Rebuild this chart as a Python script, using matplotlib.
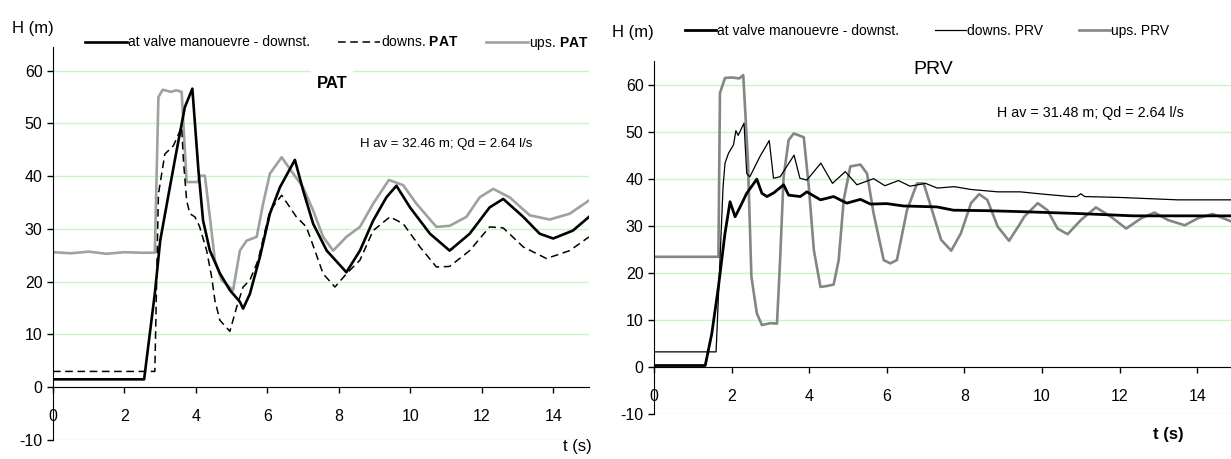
import matplotlib
matplotlib.use("Agg")
import matplotlib.pyplot as plt
from matplotlib import font_manager

names = {f.name for f in font_manager.fontManager.ttflist}
narrow = "Liberation Sans Narrow" if "Liberation Sans Narrow" in names else "Liberation Sans"
plt.rcParams["font.family"] = [narrow, "DejaVu Sans"]
plt.rcParams["axes.unicode_minus"] = False
plt.rcParams["mathtext.fontset"] = "custom"
plt.rcParams["mathtext.bf"] = narrow + ":bold"

# PAT - head at valve manoeuvre (downstream)
t_valve_pat = [0, 2.55, 2.85, 3.0, 3.27, 3.46, 3.69, 3.9, 4.07, 4.2, 4.39, 4.67, 4.95, 5.23, 5.32,
               5.51, 5.79, 6.07, 6.35, 6.77, 7.0, 7.28, 7.66, 8.21, 8.59, 8.96, 9.33, 9.61, 9.99,
               10.55, 11.1, 11.66, 12.22, 12.6, 13.16, 13.62, 14.0, 14.55, 15.0]
h_valve_pat = [1.5, 1.5, 17.8, 27.8, 37.9, 44.9, 53.1, 56.6, 41.1, 31.6, 25.9, 21.6, 18.4, 16.2, 14.9,
               17.7, 24.7, 32.9, 37.9, 43.1, 37.3, 31.0, 25.9, 21.8, 25.9, 31.6, 36.0, 38.2, 34.1,
               29.1, 25.9, 29.1, 34.1, 35.7, 32.3, 29.1, 28.2, 29.7, 32.3]

# PAT - downstream
t_down_pat = [0, 2.85, 2.9, 2.95, 3.13, 3.37, 3.6, 3.65, 3.74, 3.83, 3.97, 4.1, 4.3, 4.44, 4.53,
              4.67, 4.95, 5.14, 5.32, 5.51, 5.74, 6.07, 6.4, 6.81, 7.09, 7.33, 7.56, 7.89, 8.21,
              8.59, 8.96, 9.43, 9.8, 10.27, 10.73, 11.1, 11.66, 12.22, 12.6, 13.16, 13.81, 14.46, 15.0]
h_down_pat = [3.0, 3.0, 20.0, 36.6, 44.2, 45.8, 49.3, 43.0, 35.4, 32.9, 32.3, 30.5, 25.9, 20.9, 16.5,
              12.7, 10.6, 15.2, 19.0, 20.3, 24.1, 33.5, 36.4, 32.3, 30.4, 25.9, 21.5, 19.0, 21.5,
              24.1, 29.7, 32.3, 31.0, 26.6, 22.8, 22.9, 25.9, 30.4, 30.2, 26.6, 24.4, 25.9, 28.5]

# PAT - upstream
t_up_pat = [0, 0.5, 1.0, 1.5, 2.0, 2.5, 2.85, 2.95, 3.07, 3.3, 3.45, 3.6, 3.74, 4.05, 4.11, 4.25,
            4.39, 4.53, 4.72, 5.04, 5.23, 5.42, 5.7, 5.88, 6.07, 6.4, 6.72, 7.0, 7.28, 7.56, 7.84,
            8.21, 8.59, 8.96, 9.4, 9.8, 10.17, 10.73, 11.1, 11.57, 11.94, 12.32, 12.78, 13.34,
            13.9, 14.46, 15.0]
h_up_pat = [25.6, 25.4, 25.7, 25.3, 25.6, 25.5, 25.5, 55.0, 56.4, 56.0, 56.3, 56.0, 38.9, 38.9, 40.1, 40.1,
            32.3, 24.1, 20.3, 18.4, 25.9, 27.8, 28.5, 34.8, 40.5, 43.6, 40.5, 37.9, 33.5, 28.5, 25.9,
            28.5, 30.4, 34.8, 39.3, 38.3, 34.8, 30.4, 30.6, 32.3, 36.0, 37.6, 36.0, 32.6,
            31.8, 32.9, 35.4]

# PRV - head at valve manoeuvre (downstream)
t_valve_prv = [0, 1.32, 1.49, 1.66, 1.83, 1.96, 2.09, 2.22, 2.39, 2.65, 2.78, 2.91, 3.09, 3.34, 3.47,
               3.77, 3.94, 4.29, 4.63, 4.97, 5.32, 5.58, 6.0, 6.43, 6.86, 7.29, 7.72, 8.58, 9.44,
               10.9, 12.36, 15.0]
h_valve_prv = [0.3, 0.3, 7.1, 17.0, 28.4, 35.1, 31.9, 34.0, 36.9, 39.9, 36.9, 36.2, 37.0, 38.7, 36.5,
               36.2, 37.2, 35.5, 36.2, 34.8, 35.6, 34.6, 34.7, 34.2, 34.1, 34.0, 33.3, 33.2, 33.0,
               32.6, 32.1, 32.1]

# PRV - downstream
t_down_prv = [0, 1.6, 1.7, 1.78, 1.83, 1.92, 2.05, 2.11, 2.17, 2.32, 2.39, 2.47, 2.73, 2.97, 3.08,
              3.25, 3.61, 3.76, 3.94, 4.3, 4.6, 4.93, 5.23, 5.66, 5.95, 6.3, 6.6, 7.0, 7.3, 7.74,
              8.17, 8.86, 9.44, 10.04, 10.73, 10.9, 11.0, 11.1, 12.03, 13.5, 15.0]
h_down_prv = [3.2, 3.2, 22.7, 38.3, 43.3, 45.4, 47.2, 50.2, 49.2, 51.8, 41.1, 40.4, 44.7, 48.1, 40.1,
              40.4, 45.0, 40.1, 39.7, 43.3, 39.0, 41.5, 38.7, 40.0, 38.5, 39.6, 38.4, 39.0, 38.0, 38.3,
              37.7, 37.2, 37.2, 36.7, 36.2, 36.2, 36.8, 36.2, 36.0, 35.5, 35.5]

# PRV - upstream
t_up_prv = [0, 1.66, 1.7, 1.83, 2.0, 2.2, 2.3, 2.42, 2.51, 2.65, 2.78, 3.0, 3.17, 3.25, 3.34, 3.47,
            3.6, 3.86, 3.99, 4.12, 4.29, 4.46, 4.63, 4.76, 4.89, 5.06, 5.32, 5.49, 5.66, 5.92, 6.09,
            6.26, 6.52, 6.78, 6.95, 7.14, 7.4, 7.66, 7.91, 8.17, 8.38, 8.59, 8.86, 9.15, 9.44, 9.54,
            9.89, 10.14, 10.4, 10.66, 11.0, 11.39, 11.78, 12.17, 12.56, 12.9, 13.25, 13.68, 14.02,
            14.4, 15.0]
h_up_prv = [23.4, 23.4, 58.2, 61.4, 61.5, 61.3, 62.0, 44.0, 19.2, 11.4, 8.9, 9.3, 9.2, 22.7, 40.4, 48.2,
            49.6, 48.8, 38.3, 24.8, 17.0, 17.2, 17.5, 22.7, 35.5, 42.6, 43.0, 41.1, 32.6, 22.7, 22.0,
            22.7, 33.3, 39.0, 39.0, 34.0, 27.0, 24.7, 28.4, 34.8, 36.7, 35.5, 29.8, 26.8, 30.5, 31.9,
            34.8, 33.3, 29.4, 28.2, 31.2, 33.9, 31.9, 29.4, 31.6, 32.8, 31.2, 30.1, 31.6,
            32.5, 30.5]

W, H = 1231, 459
fig = plt.figure(figsize=(W / 100, H / 100), dpi=100)
ax1 = fig.add_axes([53 / W, 1 - 440 / H, 536 / W, 393 / H])
ax2 = fig.add_axes([654 / W, 1 - 414 / H, 582 / W, 353 / H])


def style(ax, ytop):
    ax.set_xlim(0, 15)
    ax.set_ylim(-10, ytop)
    ax.set_xticks(range(0, 16, 2))
    ax.set_yticks(range(-10, 61, 10))
    ax.spines["bottom"].set_position(("data", 0))
    ax.spines["top"].set_visible(False)
    ax.spines["right"].set_visible(False)
    ax.grid(axis="y", color="#c8f5c8", lw=1.0)
    ax.set_axisbelow(True)
    ax.tick_params(direction="out", length=4, width=1, labelsize=11.5)
    ax.tick_params(axis="x", pad=12)


style(ax1, 64.5)
style(ax2, 65.0)

# PAT panel
ax1.plot(t_up_pat, h_up_pat, color="#a0a0a0", lw=1.9, label="ups. $\\mathbf{PAT}$")
ax1.plot(t_down_pat, h_down_pat, color="black", lw=1.1, dashes=(5, 3), label="downs. $\\mathbf{PAT}$")
ax1.plot(t_valve_pat, h_valve_pat, color="black", lw=1.9, label="at valve manouevre - downst.")
h, l = ax1.get_legend_handles_labels()
ax1.legend(h[::-1], l[::-1], ncol=3, frameon=False, loc="center left",
           bbox_to_anchor=(85 / W, 1 - 43 / H), bbox_transform=fig.transFigure,
           borderpad=0, borderaxespad=0, handlelength=3.0, handletextpad=0.1,
           columnspacing=2.0, fontsize=10)
ax1.text(7.8, 57.6, "PAT", fontsize=12, fontweight="bold", ha="center", va="center",
         bbox=dict(fc="white", ec="none", pad=4))
ax1.text(8.59, 46.2, "H av = 32.46 m; Qd = 2.64 l/s", fontsize=9.5, va="center")

# PRV panel
ax2.plot(t_up_prv, h_up_prv, color="#858585", lw=1.9, label="ups. PRV")
ax2.plot(t_down_prv, h_down_prv, color="black", lw=0.9, label="downs. PRV")
ax2.plot(t_valve_prv, h_valve_prv, color="black", lw=2.0, label="at valve manouevre - downst.")
h, l = ax2.get_legend_handles_labels()
ax2.legend(h[::-1], l[::-1], ncol=3, frameon=False, loc="center left",
           bbox_to_anchor=(685 / W, 1 - 31 / H), bbox_transform=fig.transFigure,
           borderpad=0, borderaxespad=0, handlelength=2.2, handletextpad=0.1,
           columnspacing=2.6, fontsize=10)
ax2.text(7.19, 63.3, "PRV", fontsize=14, ha="center", va="center")
ax2.text(8.84, 53.9, "H av = 31.48 m; Qd = 2.64 l/s", fontsize=10.3, va="center")

fig.text(12 / W, 1 - 28 / H, "H (m)", fontsize=12, va="center")
fig.text(612 / W, 1 - 32 / H, "H (m)", fontsize=12, va="center")
fig.text(577 / W, 1 - 447 / H, "t (s)", fontsize=12, ha="center", va="center")
fig.text(1168 / W, 1 - 434 / H, "t (s)", fontsize=12, fontweight="bold", ha="center", va="center")

fig.savefig("out.png", dpi=100)
